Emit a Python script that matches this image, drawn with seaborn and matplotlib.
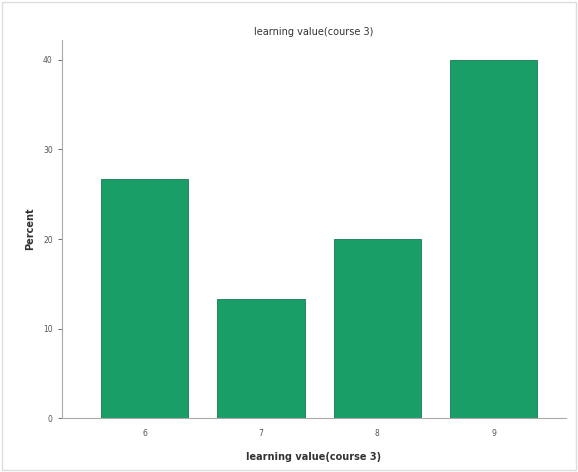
import pandas as pd
import matplotlib.pyplot as plt
import seaborn as sns

categories = ['6', '7', '8', '9']
percent = [26.67, 13.33, 20.0, 40.0]

df = pd.DataFrame({'value': categories, 'percent': percent})

sns.set_style('white')
fig = plt.figure(figsize=(5.78, 4.72), dpi=100)
ax = fig.add_axes([0.107, 0.114, 0.872, 0.801])

sns.barplot(data=df, x='value', y='percent', color='#1a9e68', width=0.75,
            edgecolor='#177a52', linewidth=0.6, saturation=1, ax=ax)

ax.set_xlim(-0.71, 3.62)
ax.set_ylim(0, 42.2)
ax.set_yticks([0, 10, 20, 30, 40])
ax.tick_params(axis='both', labelsize=5.5, colors='#555555', length=3, width=0.6, direction='out')
ax.tick_params(axis='x', length=0, pad=8)
ax.yaxis.set_ticks_position('left')
for s in ['top', 'right']:
    ax.spines[s].set_visible(False)
for s in ['left', 'bottom']:
    ax.spines[s].set_color('#aaaaaa')
    ax.spines[s].set_linewidth(0.8)

ax.set_xlabel('learning value(course 3)', fontsize=7, fontweight='bold', color='#333333', labelpad=10)
ax.set_ylabel('Percent', fontsize=7, fontweight='bold', color='#333333', labelpad=6)
ax.set_title('learning value(course 3)', fontsize=7, color='#333333', pad=4)

fig.patches.append(plt.Rectangle((0.003, 0.005), 0.994, 0.99, transform=fig.transFigure,
                                 fill=False, edgecolor='#dddddd', linewidth=1))

plt.savefig('out.png', dpi=100)
